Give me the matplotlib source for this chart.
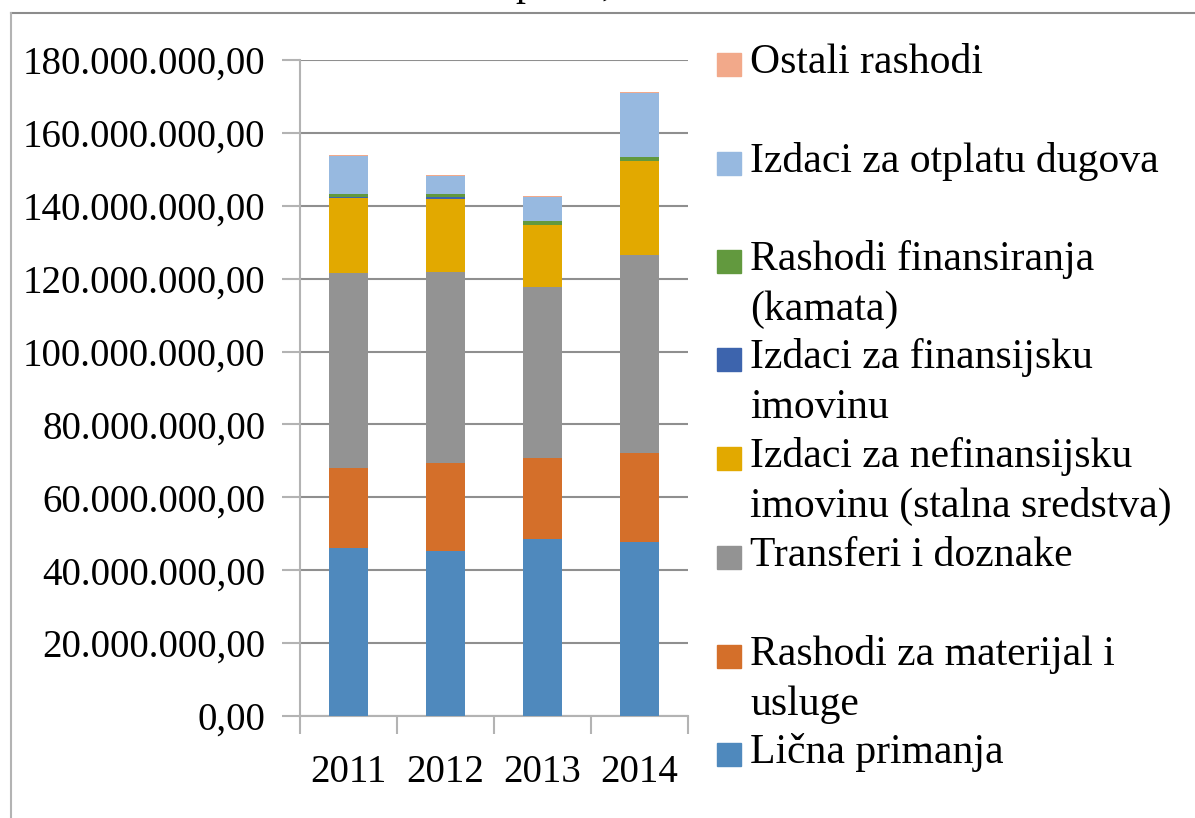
#!/usr/bin/env python3
"""Stacked bars of expenditure by type, 2011-2014."""
import numpy as np
import matplotlib
matplotlib.use("Agg")
import matplotlib.pyplot as plt
from matplotlib.patches import Rectangle
from matplotlib.lines import Line2D

# Data (values in millions)
years = ["2011", "2012", "2013", "2014"]
licna_primanja = [46.2, 45.4, 48.5, 47.8]
materijal_usluge = [21.8, 24.1, 22.4, 24.5]
transferi = [53.5, 52.3, 46.7, 54.1]
nefinansijska_imovina = [20.6, 20.1, 17.0, 25.8]
finansijska_imovina = [0.2, 0.4, 0.2, 0.2]
kamata = [1.0, 1.0, 0.9, 0.9]
otplata_dugova = [10.3, 4.8, 6.8, 17.7]
ostali_rashodi = [0.3, 0.3, 0.2, 0.3]

series = [licna_primanja, materijal_usluge, transferi, nefinansijska_imovina,
          finansijska_imovina, kamata, otplata_dugova, ostali_rashodi]
colors = ["#4F89BD", "#D46F2A", "#939393", "#E2A900",
          "#3D64AD", "#62993E", "#97B9E0", "#F2A98A"]

# Legend labels (top to bottom), each as list of wrapped lines
legend_labels = [
    ["Ostali rashodi"],
    ["Izdaci za otplatu dugova"],
    ["Rashodi finansiranja", "(kamata)"],
    ["Izdaci za finansijsku", "imovinu"],
    ["Izdaci za nefinansijsku", "imovinu (stalna sredstva)"],
    ["Transferi i doznake"],
    ["Rashodi za materijal i", "usluge"],
    ["Lična primanja"],
]
legend_colors = colors[::-1]
legend_baselines = [73, 172, 270, 368, 467, 566, 665, 763]

W, H = 1195, 818
fig = plt.figure(figsize=(W / 100, H / 100), dpi=100)
fx = lambda px: px / W
fy = lambda py: 1 - py / H

ax = fig.add_axes([fx(300), fy(716), fx(688) - fx(300), fy(60) - fy(716)])

x = np.arange(len(years))
bottom = np.zeros(len(years))
for vals, c in zip(series, colors):
    v = np.array(vals) * 1e6
    ax.bar(x, v, width=0.4, bottom=bottom, color=c, edgecolor="none", zorder=3)
    bottom += v

ax.set_xlim(-0.5, len(years) - 0.5)
ax.set_ylim(0, 180e6)
yt = np.arange(0, 180e6 + 1, 20e6)
ax.set_yticks(yt)
ax.set_yticklabels([f"{int(v):,}".replace(",", ".") + ",00" for v in yt],
                   fontfamily="Liberation Serif", fontsize=28)
ax.set_xticks(x)
ax.set_xticklabels(years, fontfamily="Liberation Serif", fontsize=28)
ax.set_xticks(np.arange(-0.5, len(years)), minor=True)
ax.tick_params(axis="x", which="major", length=0, pad=27)
ax.tick_params(axis="x", which="minor", length=13, color="#b3b3b3", width=1.5)
ax.tick_params(axis="y", length=13, color="#b3b3b3", width=1.5, pad=12)
ax.grid(axis="y", color="#8f8f8f", linewidth=1.5, zorder=0)
for s in ["top", "right"]:
    ax.spines[s].set_visible(False)
ax.spines["left"].set_color("#b3b3b3")
ax.spines["left"].set_linewidth(1.5)
ax.spines["bottom"].set_color("#b3b3b3")
ax.spines["bottom"].set_linewidth(1.5)

# Legend drawn by hand to keep the uneven spacing
for lines, c, base in zip(legend_labels, legend_colors, legend_baselines):
    fig.patches.append(Rectangle((fx(717), fy(base - 9 + 11.5)), fx(24), fy(0) - fy(23),
                                 transform=fig.transFigure, color=c))
    for i, line in enumerate(lines):
        fig.text(fx(750), fy(base + 50 * i), line, fontfamily="Liberation Serif",
                 fontsize=30, va="baseline", ha="left")

# Chart frame (cut by the picture edge)
fig.add_artist(Line2D([fx(11), 1], [fy(13), fy(13)], color="#8c8c8c", lw=1.5))
fig.add_artist(Line2D([fx(11), fx(11)], [fy(13), 0], color="#b3b3b3", lw=1.5))

# Title fragment, mostly outside the picture
fig.text(fx(515), fy(-5), "p", fontfamily="Liberation Serif", fontsize=29, va="baseline")
fig.text(fx(601), fy(-5), ",", fontfamily="Liberation Serif", fontsize=29, va="baseline")

fig.savefig("out.png", dpi=100)
